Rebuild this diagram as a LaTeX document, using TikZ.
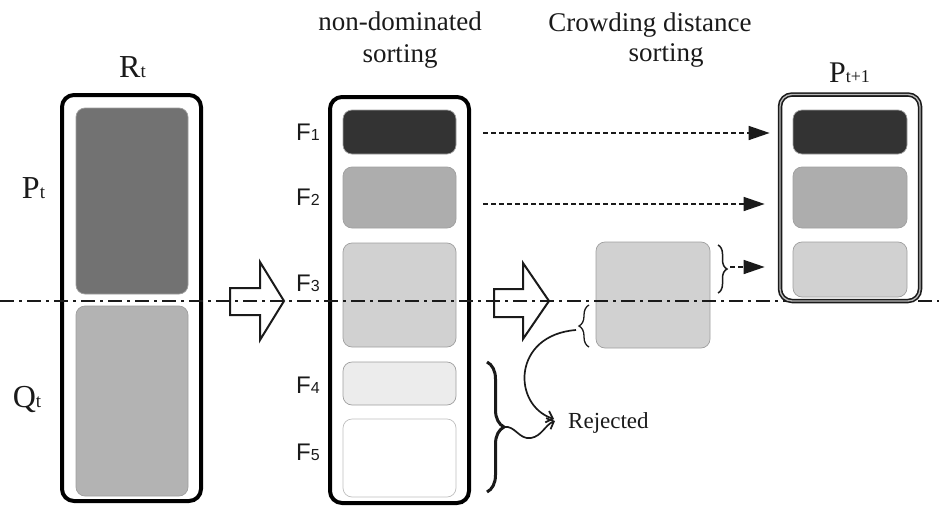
\documentclass[tikz,border=0pt]{standalone}
\usepackage{fontspec}
\setmainfont{Liberation Serif}
\newfontfamily\labelsans{Liberation Sans}
\usetikzlibrary{arrows.meta,decorations.pathreplacing}

\definecolor{bandA}{HTML}{333333}
\definecolor{bandP}{HTML}{727272}
\definecolor{bandQ}{HTML}{B3B3B3}
\definecolor{bandB}{HTML}{ADADAD}
\definecolor{bandC}{HTML}{D1D1D1}
\definecolor{bandD}{HTML}{ECECEC}
\definecolor{ink}{HTML}{1A1A1A}

\newcommand{\symsub}[4]{{\fontsize{#1}{#1}\selectfont #3\fontsize{#2}{#2}\selectfont #4}}

\begin{document}
\begin{tikzpicture}[x=1pt,y=-1pt,
  outerbox/.style={draw=black, line width=4pt, rounded corners=12pt, inner sep=0pt},
  popbox/.style={draw=ink, line width=1.6pt, double=gray!55, double distance=1.3pt,
    rounded corners=12pt, inner sep=0pt},
  band/.style={draw=gray!75, line width=0.7pt, rounded corners=9pt, inner sep=0pt},
  hollow/.style={draw=ink, line width=2pt, fill=white, line join=miter},
  flow/.style={draw=ink, line width=1.6pt, dash pattern=on 5pt off 3pt,
    -{Triangle[length=21pt,width=14pt]}},
  reject/.style={draw=ink, line width=1.7pt, -{Straight Barb[length=6pt,width=12pt]}},
  curly/.style={draw=ink, decorate, decoration={brace}},
  divider/.style={draw=ink, line width=1.2pt, dash pattern=on 14pt off 5pt on 3pt off 5pt},
  title/.style={anchor=base, inner sep=0pt, font=\fontsize{27}{27}\selectfont, text=ink},
  setlabel/.style={anchor=base, inner sep=0pt, text=ink},
  frontlabel/.style={anchor=base west, inner sep=0pt, text=ink},
]
\useasboundingbox (0,0) rectangle (939,506);

% ---- combined population R_t ----
\node[outerbox, minimum width=139pt, minimum height=406pt] (R) at (131.5,298) {};
\node[band, fill=bandP, minimum width=112pt, minimum height=186pt] (Pin) at (132,201) {};
\node[band, fill=bandQ, minimum width=112pt, minimum height=190pt] (Qin) at (132,401) {};
\node[setlabel] (Rlab) at (132.5,77) {\symsub{32}{19}{R}{t}};
\node[setlabel] (Plab) at (33.5,198) {\symsub{32}{19}{P}{t}};
\node[setlabel] (Qlab) at (27,407) {\symsub{32}{19}{Q}{t}};

% ---- fronts after non-dominated sorting ----
\node[outerbox, minimum width=139pt, minimum height=406pt] (S) at (399.5,300) {};
\node[band, fill=bandA, minimum width=113pt, minimum height=44pt] (F1) at (399.5,132) {};
\node[band, fill=bandB, minimum width=113pt, minimum height=61pt] (F2) at (399.5,197.5) {};
\node[band, fill=bandC, minimum width=113pt, minimum height=104pt] (F3) at (399.5,295) {};
\node[band, fill=bandD, minimum width=113pt, minimum height=43pt] (F4) at (399.5,383.5) {};
\node[band, draw=gray!50, fill=white, minimum width=113pt, minimum height=78pt] (F5) at (399.5,458) {};
\foreach \k/\yb in {1/140,2/205,3/291,4/393,5/460}
  \node[frontlabel] (F\k lab) at (296,\yb) {\labelsans\symsub{24}{16}{F}{\k}};

\node[title] (t1a) at (400,30) {non-dominated};
\node[title] (t1b) at (400,62) {sorting};
\node[title] (t2a) at (650,31) {Crowding distance};
\node[title] (t2b) at (666,61) {sorting};

% ---- crowding distance sorting of F3 ----
\node[band, fill=bandC, minimum width=114pt, minimum height=106pt] (C) at (653,295) {};

% ---- hollow block arrows ----
\draw[hollow] (230,288) -- (260,288) -- (260,262) -- (284,301) -- (260,340)
  -- (260,315) -- (230,315) -- cycle;
\draw[hollow] (494,289) -- (523,289) -- (523,263) -- (549,301) -- (523,339)
  -- (523,317) -- (494,317) -- cycle;

% ---- braces ----
\draw[curly, line width=1.5pt, decoration={brace, amplitude=9pt}] (718,245) -- (718,293);
\coordinate (b1) at (730,267);
\draw[curly, line width=1.3pt, decoration={brace, amplitude=10pt}] (589,347) -- (589,305);
\coordinate (b2) at (576,330);
\draw[curly, line width=3pt, decoration={brace, amplitude=17pt}] (487,362) -- (487,492);
\coordinate (b3) at (504,427);

% ---- rejected members ----
\node[frontlabel, font=\fontsize{23}{23}\selectfont] (rej) at (568,428) {Rejected};
\coordinate (r1) at (554,419);
\coordinate (r2) at (555,421);
\draw[reject] (b2) .. controls (512,335) and (512,405) .. (r1);
\draw[reject] (b3) .. controls (515,425) and (519,440) .. (531,438)
  .. controls (542,436) and (545,425) .. (r2);

% ---- population size boundary ----
\coordinate (d0) at (0,301);
\coordinate (d1) at (939,301);
\draw[divider] (d0) -- (d1);

% ---- next population P_{t+1} ----
\node[popbox, minimum width=140pt, minimum height=206.5pt] (N) at (850,197.75) {};
\node[band, fill=bandA, minimum width=114pt, minimum height=44pt] (G1) at (850,132) {};
\node[band, fill=bandB, minimum width=114pt, minimum height=61pt] (G2) at (850,197.5) {};
\node[band, fill=bandC, minimum width=114pt, minimum height=55pt] (G3) at (850,269.5) {};
\node[setlabel] (Nlab) at (849.5,82) {\symsub{30}{18}{P}{t+1}};

% ---- fronts copied directly ----
\coordinate (s1) at (483,133);
\coordinate (s2) at (483,204);
\draw[flow, shorten >=23pt] (s1) -- (s1 -| G1.west);
\draw[flow, shorten >=28pt] (s2) -- (s2 -| G2.west);
\draw[flow, shorten >=28pt] (b1) -- (b1 -| G3.west);
\end{tikzpicture}
\end{document}
